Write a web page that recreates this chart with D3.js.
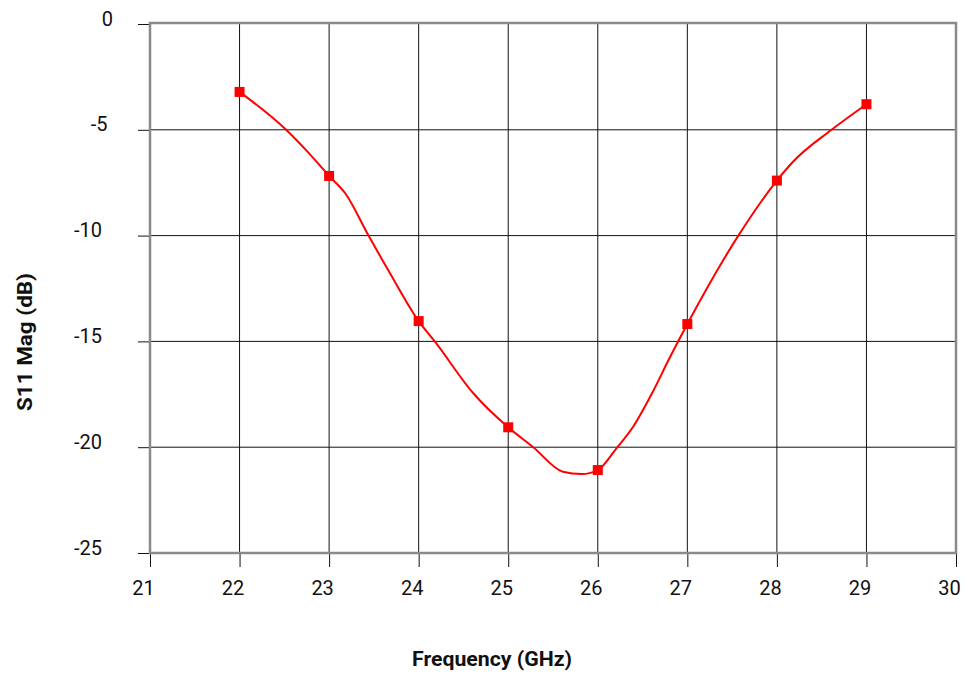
<!DOCTYPE html>
<html>
<head>
<meta charset="utf-8">
<script src="https://cdn.jsdelivr.net/npm/d3@7"></script>
<style>
  body { margin: 0; background: #fff; }
  svg { display: block; }
  .tick text { font-family: Roboto, "Liberation Sans", sans-serif; font-size: 20px; fill: #111; }
  .title { font-family: Roboto, "Liberation Sans", sans-serif; font-size: 20px; font-weight: bold; fill: #111; }
</style>
</head>
<body>
<script>
// curve (GHz, dB)
const freq = [22.0, 22.52, 22.74, 23.0, 23.18, 23.44, 23.68, 24.0, 24.18, 24.61, 25.0, 25.28,
  25.61, 25.82, 26.0, 26.2, 26.4, 26.6, 26.8, 27.0, 27.57, 28.0, 28.18, 28.61, 29.0];
const s11 = [-3.21, -5.0, -5.95, -7.18, -8.0, -10.0, -11.78, -14.04, -15.0, -17.45, -19.06, -20.0,
  -21.16, -21.27, -21.08, -20.1, -19.0, -17.5, -15.8, -14.18, -10.0, -7.40, -6.51, -5.0, -3.79];

// marker points
const markerFreq = [22, 23, 24, 25, 26, 27, 28, 29];
const markerS11 = [-3.21, -7.18, -14.04, -19.06, -21.08, -14.18, -7.40, -3.79];

const xTicks = [21, 22, 23, 24, 25, 26, 27, 28, 29, 30];
const yTicks = [0, -5, -10, -15, -20, -25];

const W = 968, H = 682;
const mLeft = 150, mRight = 956, mTop = 24, mBottom = 553;

const svg = d3.select("body").append("svg").attr("width", W).attr("height", H);

const x = d3.scaleLinear().domain([21, 30]).range([mLeft, mRight]);
const y = d3.scaleLinear().domain([0, -25]).range([mTop, mBottom]);

// grid
svg.append("g").selectAll("line").data(xTicks.slice(1, -1)).enter().append("line")
  .attr("x1", d => x(d)).attr("x2", d => x(d)).attr("y1", mTop).attr("y2", mBottom)
  .attr("stroke", "#111").attr("stroke-width", 1);
svg.append("g").selectAll("line").data(yTicks.slice(1, -1)).enter().append("line")
  .attr("x1", mLeft).attr("x2", mRight).attr("y1", d => y(d)).attr("y2", d => y(d))
  .attr("stroke", "#111").attr("stroke-width", 1);

// axes
const xAxis = svg.append("g").attr("transform", `translate(0,${mBottom})`)
  .call(d3.axisBottom(x).tickValues(xTicks).tickSize(14).tickPadding(14).tickFormat(d => String(d)));
xAxis.select(".domain").remove();
xAxis.selectAll(".tick line").attr("stroke", "#111");
xAxis.selectAll(".tick text").attr("dx", -7);

const yAxis = svg.append("g").attr("transform", `translate(${mLeft},0)`)
  .call(d3.axisLeft(y).tickValues(yTicks).tickSize(12).tickPadding(36).tickFormat(d => String(d)));
yAxis.select(".domain").remove();
yAxis.selectAll(".tick line").attr("stroke", "#111");
yAxis.selectAll(".tick text")
  .attr("dy", "0.05em")
  .attr("dx", function () { return (3 - this.textContent.length) * 5.5; });

// frame
svg.append("rect")
  .attr("x", mLeft).attr("y", mTop - 1).attr("width", mRight - mLeft).attr("height", mBottom - mTop + 1)
  .attr("fill", "none").attr("stroke", "#8a8a8a").attr("stroke-width", 2.5);

// curve
const pts = freq.map((f, i) => [f, s11[i]]);
svg.append("path").datum(pts)
  .attr("fill", "none").attr("stroke", "#ff0000").attr("stroke-width", 2)
  .attr("d", d3.line().x(d => x(d[0])).y(d => y(d[1])).curve(d3.curveMonotoneX));

// markers
svg.append("g").selectAll("rect").data(markerFreq).enter().append("rect")
  .attr("x", d => x(d) - 5).attr("y", (d, i) => y(markerS11[i]) - 5)
  .attr("width", 10).attr("height", 10).attr("fill", "#ff0000");

// titles
svg.append("text").attr("class", "title")
  .attr("x", 492).attr("y", 666).attr("text-anchor", "middle")
  .attr("textLength", 160).attr("lengthAdjust", "spacingAndGlyphs")
  .text("Frequency (GHz)");
svg.append("text").attr("class", "title")
  .attr("transform", "translate(32,342) rotate(-90)").attr("text-anchor", "middle")
  .attr("textLength", 138).attr("lengthAdjust", "spacingAndGlyphs")
  .text("S11 Mag (dB)");
</script>
</body>
</html>
